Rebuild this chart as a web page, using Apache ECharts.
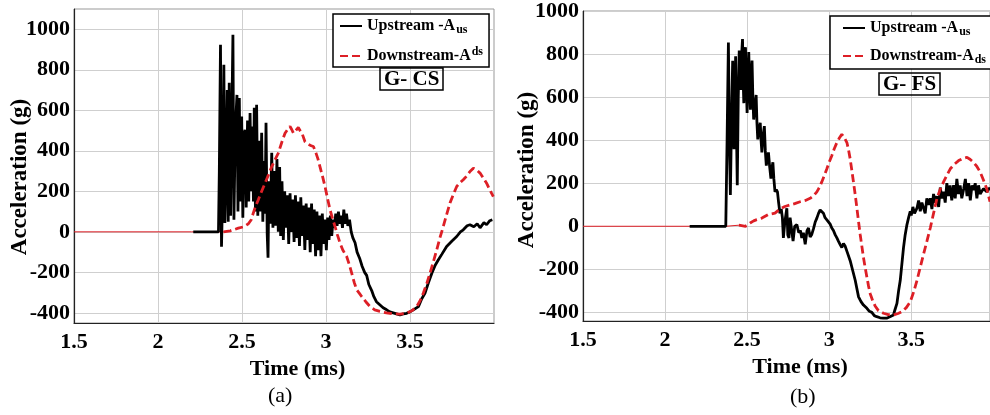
<!DOCTYPE html>
<html>
<head>
<meta charset="utf-8">
<script src="https://cdn.jsdelivr.net/npm/echarts@6/dist/echarts.min.js"></script>
<style>html,body{margin:0;padding:0;background:#fff;}#c{width:990px;height:415px;}</style>
</head>
<body>
<div id="c"></div>
<script>
// ---------- DATA ----------
const xTicks = [1.5, 2, 2.5, 3, 3.5];
const yTicks = [-400, -200, 0, 200, 400, 600, 800, 1000];

// (a) G- CS : Upstream
const timeAus = [2.21,2.36,2.365,2.372,2.378,2.385,2.392,2.398,2.405,2.412,2.418,2.424,2.432,2.44,2.446,2.452,2.46,2.47,2.476,2.484,2.49,2.498,2.505,2.512,2.518,2.525,2.533,2.54,2.548,2.555,2.562,2.568,2.573,2.58,2.587,2.594,2.602,2.609,2.617,2.624,2.631,2.637,2.643,2.65,2.655,2.66,2.668,2.677,2.684,2.692,2.7,2.708,2.716,2.724,2.73,2.738,2.746,2.754,2.762,2.77,2.778,2.786,2.794,2.802,2.81,2.818,2.826,2.834,2.842,2.85,2.858,2.866,2.874,2.882,2.89,2.898,2.906,2.914,2.922,2.93,2.938,2.946,2.954,2.962,2.97,2.978,2.986,2.994,3.002,3.01,3.018,3.026,3.034,3.042,3.05,3.058,3.066,3.074,3.082,3.09,3.098,3.106,3.114,3.122,3.13,3.14,3.15,3.16,3.173,3.185,3.2,3.215,3.23,3.242,3.255,3.272,3.285,3.3,3.32,3.34,3.361,3.38,3.4,3.42,3.44,3.46,3.48,3.5,3.52,3.55,3.57,3.589,3.61,3.63,3.65,3.669,3.69,3.718,3.75,3.778,3.8,3.817,3.84,3.857,3.88,3.9,3.917,3.94,3.956,3.975,3.99];
const accAus  = [0,0,300,923,-74,200,825,44,300,700,50,736,80,600,973,60,500,676,100,660,150,569,70,480,504,120,550,150,587,200,520,150,612,100,627,80,450,100,489,50,350,90,538,-10,-128,250,40,390,20,300,30,360,0,320,-20,250,-40,200,20,180,-60,190,0,160,-50,180,-30,150,-70,170,-20,130,-90,140,-40,120,-100,140,-60,110,-120,100,-90,80,-120,90,-60,60,-90,70,-40,80,-20,60,20,90,30,100,40,80,20,110,40,90,30,60,0,-30,-54,-100,-130,-170,-200,-215,-260,-290,-320,-345,-360,-375,-385,-395,-400,-405,-410,-405,-402,-395,-385,-369,-330,-303,-250,-204,-165,-138,-110,-72,-45,-23,0,10,30,35,25,40,20,45,35,55,60];

// (a) G- CS : Downstream
const timeAds = [1.5,2.2,2.39,2.43,2.478,2.51,2.538,2.555,2.567,2.58,2.597,2.617,2.637,2.657,2.677,2.696,2.716,2.736,2.756,2.775,2.786,2.796,2.806,2.815,2.825,2.835,2.845,2.86,2.875,2.885,2.9,2.912,2.925,2.94,2.952,2.964,2.979,2.994,3.009,3.024,3.039,3.054,3.068,3.083,3.1,3.123,3.138,3.153,3.168,3.183,3.2,3.212,3.237,3.262,3.29,3.321,3.36,3.4,3.44,3.48,3.51,3.54,3.56,3.579,3.6,3.619,3.64,3.659,3.678,3.698,3.718,3.738,3.758,3.778,3.797,3.817,3.837,3.857,3.877,3.897,3.917,3.937,3.956,3.976,3.996];
const accAds  = [0,0,0,5,18,25,40,60,92,125,158,200,240,280,322,355,388,440,487,510,520,505,487,495,505,515,512,480,445,438,430,425,421,390,360,322,275,224,165,109,65,26,-15,-54,-90,-122,-160,-204,-250,-286,-305,-319,-345,-369,-385,-393,-400,-405,-406,-402,-390,-369,-340,-303,-255,-204,-145,-89,-30,26,85,142,185,224,242,257,275,298,314,305,290,265,240,205,174];

// (b) G- FS : Upstream
const timeBus = [2.15,2.37,2.378,2.386,2.392,2.398,2.405,2.412,2.418,2.42,2.426,2.43,2.436,2.44,2.446,2.452,2.457,2.462,2.467,2.472,2.477,2.48,2.486,2.49,2.495,2.5,2.505,2.51,2.515,2.52,2.525,2.53,2.535,2.54,2.548,2.555,2.56,2.565,2.572,2.58,2.585,2.59,2.597,2.605,2.611,2.617,2.624,2.63,2.637,2.645,2.651,2.657,2.663,2.67,2.678,2.685,2.692,2.7,2.708,2.715,2.721,2.73,2.742,2.748,2.755,2.762,2.773,2.78,2.79,2.803,2.815,2.825,2.833,2.843,2.854,2.865,2.874,2.884,2.894,2.905,2.915,2.925,2.935,2.945,2.955,2.965,2.975,2.986,2.996,3.006,3.016,3.026,3.037,3.047,3.057,3.067,3.077,3.087,3.097,3.11,3.128,3.145,3.159,3.169,3.179,3.194,3.209,3.23,3.245,3.26,3.275,3.29,3.31,3.33,3.35,3.37,3.392,3.4,3.413,3.423,3.433,3.443,3.453,3.463,3.474,3.484,3.494,3.5,3.51,3.52,3.535,3.545,3.555,3.565,3.575,3.585,3.595,3.605,3.616,3.626,3.636,3.646,3.656,3.667,3.677,3.687,3.697,3.707,3.717,3.727,3.737,3.747,3.758,3.768,3.778,3.788,3.798,3.808,3.82,3.83,3.84,3.85,3.86,3.87,3.88,3.89,3.9,3.91,3.92,3.94,3.96,3.98];
const accBus  = [0,0,400,854,400,145,500,769,400,358,600,790,400,191,600,816,700,633,800,870,650,572,750,832,650,526,700,809,650,541,700,770,600,496,560,610,480,404,450,481,400,343,420,465,350,282,320,343,280,221,270,297,220,160,170,160,110,60,80,40,-54,20,84,-40,-54,40,38,-69,0,8,-30,-20,-54,-30,-84,-20,-8,-50,-38,-10,20,38,60,76,70,61,40,30,23,10,-8,-20,-40,-54,-70,-85,-99,-80,-92,-120,-160,-210,-252,-290,-328,-350,-366,-381,-395,-400,-415,-420,-425,-427,-427,-420,-412,-390,-358,-300,-252,-176,-99,-40,8,40,69,50,90,60,84,120,70,110,114,60,130,100,130,80,150,110,140,90,180,130,160,110,200,140,190,120,191,130,220,150,190,130,175,220,140,200,120,190,168,200,130,190,150,175,160,180];

// (b) G- FS : Downstream
const timeBds = [1.5,2.37,2.45,2.49,2.518,2.54,2.559,2.59,2.63,2.67,2.7,2.73,2.762,2.79,2.823,2.855,2.884,2.905,2.925,2.94,2.955,2.97,2.986,3.0,3.016,3.031,3.047,3.062,3.077,3.09,3.108,3.118,3.128,3.138,3.148,3.159,3.169,3.179,3.189,3.199,3.209,3.22,3.23,3.24,3.25,3.265,3.28,3.3,3.331,3.36,3.392,3.42,3.443,3.47,3.494,3.515,3.535,3.555,3.575,3.596,3.616,3.636,3.657,3.677,3.697,3.718,3.738,3.763,3.789,3.815,3.84,3.86,3.88,3.9,3.92,3.94,3.96,3.98];
const accBds  = [0,0,5,0,15,25,31,38,55,61,80,92,99,105,114,120,130,142,160,180,206,235,267,298,328,360,389,410,427,415,389,355,313,260,206,145,84,22,-38,-92,-145,-195,-237,-278,-313,-345,-370,-392,-404,-410,-412,-405,-397,-378,-351,-305,-252,-190,-130,-68,-8,60,130,172,206,238,267,288,305,315,320,310,297,278,252,215,175,114];

// ---------- CHART ----------
const pair = (t, a) => t.map((v, i) => [v, a[i]]);
const FONT = "'Liberation Serif','Times New Roman',serif";
const RED = '#dd1f26';

function xAxisCfg(gi, max) {
  return {
    type: 'value', gridIndex: gi, min: 1.5, max: max,
    axisLabel: { customValues: xTicks, formatter: v => String(v), color: '#000', fontFamily: FONT, fontWeight: 'bold', fontSize: 22, margin: 8 },
    axisTick: { show: false, customValues: xTicks },
    axisLine: { show: true, onZero: false, lineStyle: { color: '#222', width: 1.2 } },
    splitLine: { show: true, lineStyle: { color: '#cfcfcf', width: 1 } },
    name: 'Time (ms)', nameLocation: 'middle', nameGap: 34,
    nameTextStyle: { color: '#000', fontFamily: FONT, fontWeight: 'bold', fontSize: 22, padding: [0, 0, 0, 27] }
  };
}
function yAxisCfg(gi, min, max) {
  return {
    type: 'value', gridIndex: gi, min: min, max: max,
    axisLabel: { customValues: yTicks, formatter: v => String(v), color: '#000', fontFamily: FONT, fontWeight: 'bold', fontSize: 22, margin: 4 },
    axisTick: { show: false, customValues: yTicks },
    axisLine: { show: true, onZero: false, lineStyle: { color: '#222', width: 1.2 } },
    splitLine: { show: true, lineStyle: { color: '#cfcfcf', width: 1 } }
  };
}

const richLeg = {
  b: { fontFamily: FONT, fontWeight: 'bold', fontSize: 16, color: '#000' },
  sub: { fontFamily: FONT, fontWeight: 'bold', fontSize: 12, color: '#000', padding: [8, 0, 0, 1] },
  sup: { fontFamily: FONT, fontWeight: 'bold', fontSize: 12, color: '#000', padding: [0, 0, 8, 1] }
};
const legNames = {
  usA: '{b|Upstream -A}{sub|us}',
  dsA: '{b|Downstream-A}{sup|ds}',
  usB: '{b|Upstream -A}{sub|us}',
  dsB: '{b|Downstream-A}{sub|ds}'
};

function lineSeries(name, xi, data, color, type, width, z) {
  return {
    name: name, type: 'line', xAxisIndex: xi, yAxisIndex: xi, data: data,
    showSymbol: false, symbol: 'none', animation: false, z: z || 2,
    lineStyle: { color: color, width: width, type: type },
    itemStyle: { color: color }
  };
}

const baseA = pair(timeAds, accAds).filter(p => p[0] <= 2.43);
const dashA = pair(timeAds, accAds).filter(p => p[0] >= 2.39);
const baseB = pair(timeBds, accBds).filter(p => p[0] <= 2.5);
const dashB = pair(timeBds, accBds).filter(p => p[0] >= 2.45);

const legendCommon = {
  orient: 'vertical', itemGap: 10, itemWidth: 22, itemHeight: 12,
  borderColor: '#000', borderWidth: 1.5, backgroundColor: '#fff',
  itemStyle: { color: 'rgba(0,0,0,0)', borderWidth: 0, opacity: 0 },
  formatter: n => legNames[n], textStyle: { rich: richLeg }, selectedMode: false
};

function yTitle(x, y) {
  return { type: 'text', x: x, y: y, rotation: Math.PI / 2,
    style: { text: 'Acceleration (g)', font: "bold 23px 'Liberation Serif'", fill: '#000', align: 'center', verticalAlign: 'middle' } };
}

const chart = echarts.init(document.getElementById('c'), null, { renderer: 'canvas' });
chart.setOption({
  backgroundColor: '#fff',
  animation: false,
  grid: [
    { left: 74, top: 9, width: 420, height: 314, show: true, borderColor: '#999', borderWidth: 1 },
    { left: 583, top: 6, width: 407, height: 315, show: true, borderColor: '#999', borderWidth: 1 }
  ],
  xAxis: [xAxisCfg(0, 4), xAxisCfg(1, 3.98)],
  yAxis: [yAxisCfg(0, -450, 1100), yAxisCfg(1, -440, 1000)],
  title: [
    { text: 'G- CS', left: 380, top: 68, padding: [1, 4, 0, 4], borderColor: '#000', borderWidth: 1.5,
      textStyle: { fontFamily: FONT, fontWeight: 'bold', fontSize: 21, color: '#000' } },
    { text: 'G- FS', left: 879, top: 73, padding: [1, 4, 0, 4], borderColor: '#000', borderWidth: 1.5,
      textStyle: { fontFamily: FONT, fontWeight: 'bold', fontSize: 21, color: '#000' } }
  ],
  legend: [
    Object.assign({ data: ['usA', 'dsA'], left: 333, top: 14, padding: [4, 6, 3, 6] }, legendCommon),
    Object.assign({ data: ['usB', 'dsB'], left: 830, top: 16, padding: [4, 6, 3, 12] }, legendCommon)
  ],
  graphic: [
    yTitle(20, 177),
    yTitle(527, 170),
    { type: 'text', left: 268, top: 385, style: { text: '(a)', font: "22px 'Liberation Serif'", fill: '#000' } },
    { type: 'text', left: 790, top: 386, style: { text: '(b)', font: "22px 'Liberation Serif'", fill: '#000' } }
  ],
  series: [
    lineSeries('dsA-base', 0, baseA, RED, 'solid', 1, 1),
    lineSeries('usA', 0, pair(timeAus, accAus), '#000', 'solid', 2.8, 2),
    lineSeries('dsA', 0, dashA, RED, [8, 4], 2.8, 3),
    lineSeries('dsB-base', 1, baseB, RED, 'solid', 1, 1),
    lineSeries('usB', 1, pair(timeBus, accBus), '#000', 'solid', 2.8, 2),
    lineSeries('dsB', 1, dashB, RED, [8, 4], 2.8, 3)
  ]
});
</script>
</body>
</html>
